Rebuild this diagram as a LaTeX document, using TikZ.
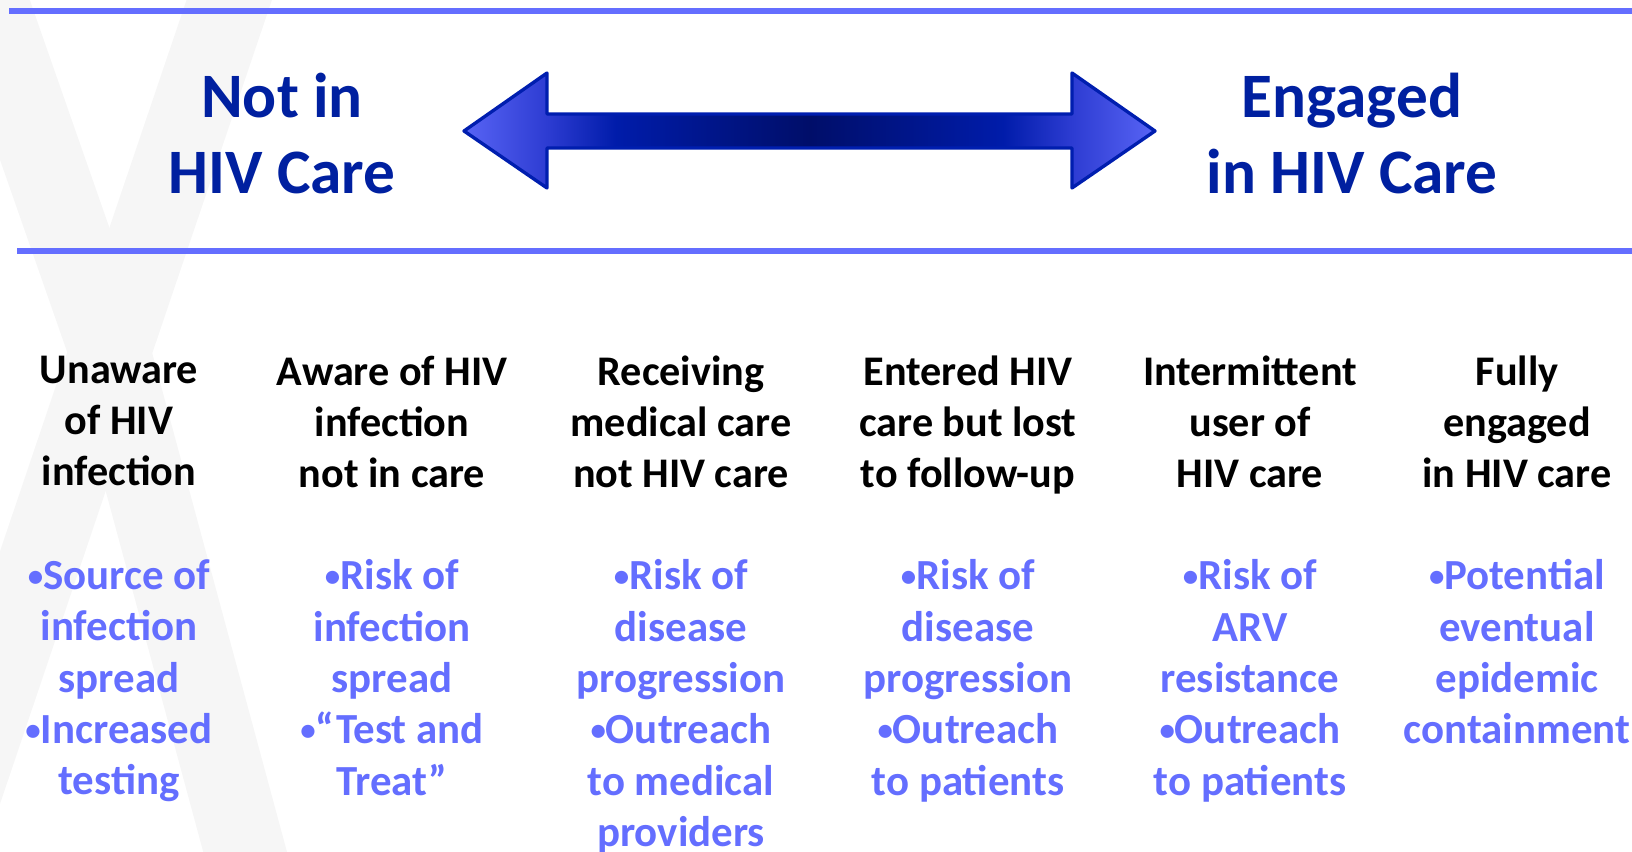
\documentclass[tikz,border=0pt]{standalone}
\usepackage{graphicx}
\usepackage{fontspec}
\setmainfont{Carlito}

\definecolor{linecol}{RGB}{100,110,255}
\definecolor{titlecol}{RGB}{0,32,160}
\definecolor{bulletcol}{RGB}{100,110,255}
\definecolor{arrowedge}{RGB}{0,30,175}
\definecolor{arrowlight}{RGB}{88,100,245}
\definecolor{arrowmid}{RGB}{45,60,210}
\definecolor{arrowdeep}{RGB}{0,28,170}
\definecolor{arrowdark}{RGB}{0,14,105}
\definecolor{ribboncol}{RGB}{246,246,246}

\pgfdeclarehorizontalshading{arrowshade}{100bp}{color(0bp)=(arrowlight); color(25bp)=(arrowlight); color(31bp)=(arrowmid); color(36bp)=(arrowdeep); color(50bp)=(arrowdark); color(64bp)=(arrowdeep); color(69bp)=(arrowmid); color(75bp)=(arrowlight); color(100bp)=(arrowlight)}

\newcommand{\bul}{\raisebox{0.08em}{\scalebox{0.72}{•}}}

\tikzset{
  side/.style={text=titlecol, font=\fontsize{18}{21.6}\selectfont\bfseries, align=center, anchor=north, inner sep=0pt, execute at begin node=\strut},
  stage/.style={text=black, font=\fontsize{12}{14.5}\selectfont\bfseries, align=center, anchor=north, inner sep=0pt, execute at begin node=\strut},
  note/.style={text=bulletcol, font=\fontsize{12.2}{14.6}\selectfont\bfseries, align=center, anchor=north, inner sep=0pt, execute at begin node=\strut},
  rule/.style={draw=linecol, line width=1.8pt}
}

\begin{document}
\begin{tikzpicture}[x=0.01cm,y=-0.01cm]
\useasboundingbox (0,0) rectangle (1632,852);

% faint ribbon in the background
\draw[ribboncol, line width=23pt, line join=round] (236,-20) -- (110,352) -- (-65,870);
\draw[ribboncol, line width=23pt, line join=round] (-20,-20) -- (110,352) -- (250,870);

\draw[rule] (9,11) -- (1632,11);
\draw[rule] (17,251) -- (1632,251);

% double arrow
\draw[draw=arrowedge, line width=0.95pt, line join=round, shading=arrowshade]
  (464,131) -- (547,73) -- (547,114) -- (1072,114) -- (1072,73) -- (1155,131)
  -- (1072,188) -- (1072,148) -- (547,148) -- (547,188) -- cycle;

\node[side] (notcare) at (282,72) {Not in\\HIV Care};
\node[side] (engaged) at (1352,72) {Engaged\\in HIV Care};

\node[stage] (unaware) at (119,355) {Unaware\\of HIV\\infection};
\node[stage] (aware) at (392,355) {Aware of HIV\\infection\\not in care};
\node[stage] (medical) at (681,355) {Receiving\\medical care\\not HIV care};
\node[stage] (lost) at (968,355) {Entered HIV\\care but lost\\to follow-up};
\node[stage] (intermit) at (1250,355) {Intermittent\\user of\\HIV care};
\node[stage] (fully) at (1517,355) {Fully\\engaged\\in HIV care};

\node[note] (unawarenote) at (119,559) {\bul Source of\\infection\\spread\\\bul Increased\\testing};
\node[note] (awarenote) at (392,559) {\bul Risk of\\infection\\spread\\\bul“Test and\\Treat”};
\node[note] (medicalnote) at (681,559) {\bul Risk of\\disease\\progression\\\bul Outreach\\to medical\\providers};
\node[note] (lostnote) at (968,559) {\bul Risk of\\disease\\progression\\\bul Outreach\\to patients};
\node[note] (intermitnote) at (1250,559) {\bul Risk of\\ARV\\resistance\\\bul Outreach\\to patients};
\node[note] (fullynote) at (1517,559) {\bul Potential\\eventual\\epidemic\\containment};
\end{tikzpicture}
\end{document}
